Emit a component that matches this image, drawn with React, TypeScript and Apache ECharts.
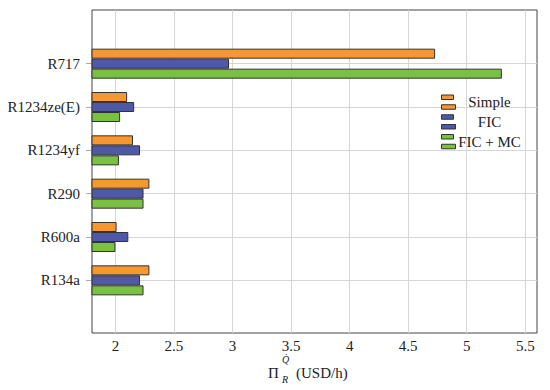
import React, { useEffect, useRef } from "react";
import * as echarts from "echarts";

const categories = ["R717", "R1234ze(E)", "R1234yf", "R290", "R600a", "R134a"];
const simpleValues = [4.73, 2.1, 2.15, 2.29, 2.01, 2.29];
const ficValues = [2.97, 2.16, 2.21, 2.24, 2.11, 2.21];
const ficMcValues = [5.3, 2.04, 2.03, 2.24, 2.0, 2.24];
const seriesNames = ["Simple", "FIC", "FIC + MC"];
const seriesColors = ["#F7972F", "#5059A8", "#7AC143"];

const FONT = "Liberation Serif";

export default function App() {
  const ref = useRef<HTMLDivElement>(null);
  useEffect(() => {
    if (!ref.current) return;
    const chart = echarts.init(ref.current, null, { renderer: "svg" });
    const values = [simpleValues, ficValues, ficMcValues];
    const icon = "path://M0,0 H12 V4.5 H0 Z M0,9.75 H14 V14.25 H0 Z";
    chart.setOption({
      animation: false,
      backgroundColor: "#ffffff",
      textStyle: { fontFamily: FONT },
      grid: [
        { left: 92, top: 10, width: 445, height: 323, show: true, borderColor: "#444", borderWidth: 1, backgroundColor: "transparent" },
        { left: 92, top: 42, width: 445, height: 260, show: false },
      ],
      legend: {
        orient: "vertical",
        left: 441,
        top: 94.5,
        padding: 0,
        itemWidth: 14,
        itemHeight: 14.25,
        itemGap: 4.5,
        icon,
        data: seriesNames,
        formatter: "{c|{name}}",
        textStyle: {
          fontFamily: FONT,
          fontSize: 15,
          color: "#222",
          rich: { c: { width: 58, align: "center", fontFamily: FONT, fontSize: 15, lineHeight: 15, color: "#222" } },
        },
        itemStyle: { borderColor: "#333", borderWidth: 1 },
      },
      xAxis: [
        {
          type: "value",
          gridIndex: 0,
          min: 1.8,
          max: 5.6,
          minInterval: 0.5,
          maxInterval: 0.5,
          axisLine: { show: false },
          axisTick: { show: false },
          axisLabel: { showMinLabel: false, showMaxLabel: false, fontFamily: FONT, fontSize: 15, color: "#222", margin: 5 },
          splitLine: { show: true, showMinLine: false, showMaxLine: false, lineStyle: { color: "#d6d6d6", width: 1 } },
        },
        {
          type: "value",
          gridIndex: 1,
          min: 1.8,
          max: 5.6,
          show: false,
          splitLine: { show: false },
        },
      ],
      yAxis: [
        {
          type: "value",
          gridIndex: 0,
          show: false,
          splitLine: { show: false },
        },
        {
          type: "category",
          gridIndex: 1,
          data: categories,
          inverse: true,
          axisLine: { show: false },
          axisTick: { show: true, alignWithLabel: true, length: 6, lineStyle: { color: "#aaa" } },
          axisLabel: { fontFamily: FONT, fontSize: 15, color: "#222", margin: 12 },
          splitLine: { show: false },
        },
        {
          type: "value",
          gridIndex: 1,
          min: -0.5,
          max: 5.5,
          minInterval: 1,
          maxInterval: 1,
          axisLine: { show: false },
          axisTick: { show: false },
          axisLabel: { show: false },
          splitLine: { show: true, showMinLine: false, showMaxLine: false, lineStyle: { color: "#d6d6d6", width: 1 } },
        },
      ],
      series: seriesNames.map((name, i) => ({
        name,
        type: "bar",
        xAxisIndex: 1,
        yAxisIndex: 1,
        data: values[i],
        barWidth: 10,
        barGap: "0%",
        z: 3,
        itemStyle: { color: seriesColors[i], borderColor: "#333", borderWidth: 1 },
      })),
      graphic: [
        { type: "text", left: 268, top: 365, style: { text: "Π", fontFamily: FONT, fontSize: 15, fill: "#222" } },
        { type: "text", left: 282, top: 354, style: { text: "Q\u0307", fontFamily: FONT, fontSize: 10, fontStyle: "italic", fill: "#222" } },
        { type: "text", left: 282, top: 374, style: { text: "R", fontFamily: FONT, fontSize: 10, fontStyle: "italic", fill: "#222" } },
        { type: "text", left: 296, top: 365, style: { text: "(USD/h)", fontFamily: FONT, fontSize: 15, fill: "#222" } },
      ],
    });
    return () => chart.dispose();
  }, []);
  return <div ref={ref} style={{ position: "fixed", left: 0, top: 0, width: 550, height: 390 }} />;
}
